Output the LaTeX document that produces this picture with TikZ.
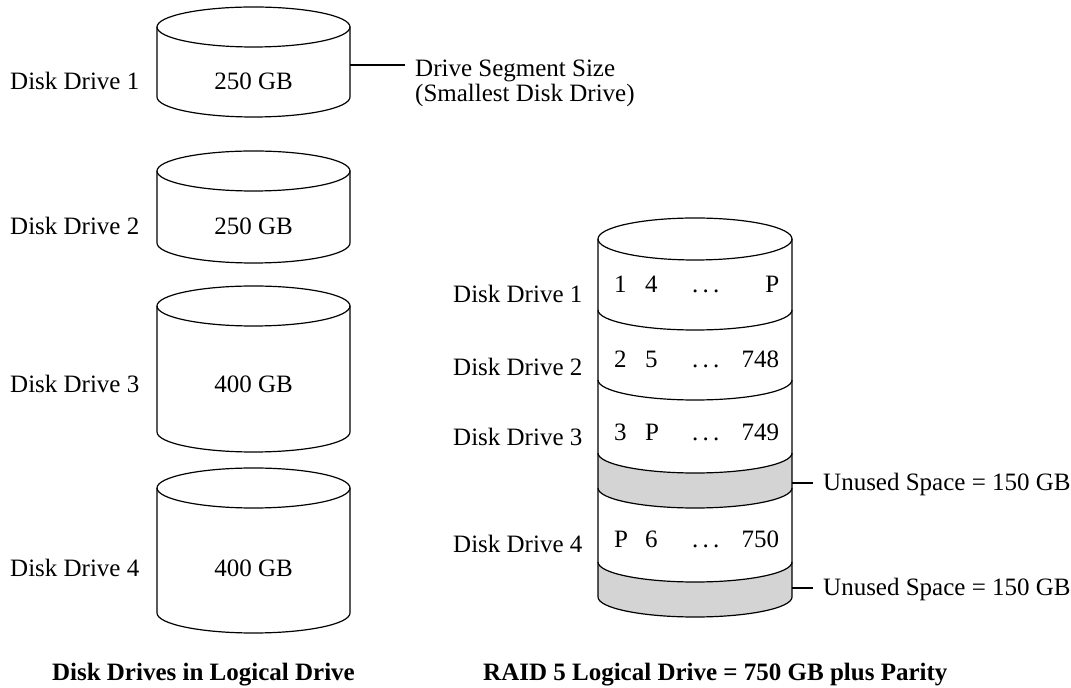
\documentclass[tikz,border=0pt]{standalone}
\usepackage{fontspec}
\setmainfont{Liberation Serif}
\usepackage{xcolor}
\definecolor{raidgray}{RGB}{212, 212, 212}
\definecolor{raidink}{RGB}{0, 0, 0}
\usepackage{tikz}
% one row of stripes inside the RAID drive
\newcommand{\raidrow}[3]{%
  \makebox[31pt][l]{#1}\makebox[47pt][l]{#2}%
  \makebox[28pt][l]{.\,.\,.}\makebox[59pt][r]{#3}}
\tikzset{
  % --- TEXT ---
  drive-label/.style={
    text=raidink,
    font=\fontsize{25}{25}\selectfont,
    inner sep=0pt,
    anchor=base west
  },
  size-text/.style={
    text=raidink,
    font=\fontsize{25}{25}\selectfont,
    inner sep=0pt,
    anchor=base
  },
  note-label/.style={
    text=raidink,
    font=\fontsize{25}{25}\selectfont,
    inner xsep=10pt,
    inner ysep=0pt,
    align=left
  },
  title-label/.style={
    text=raidink,
    font=\fontsize{25}{25}\selectfont\bfseries,
    inner sep=0pt
  },
  % --- LINES ---
  drum/.style={
    draw=raidink,
    line width=1.2pt
  },
  unused/.style={
    fill=raidgray
  },
  leader/.style={
    draw=raidink,
    line width=1.2pt
  },
}

\begin{document}
\begin{tikzpicture}[x=1pt, y=1pt]
  \useasboundingbox (0,0) rectangle (1071,688);
  % --- disk drives, left column
  \draw[drum] (253.5,661) ellipse [x radius=96.5, y radius=20];
  \draw[drum] (157,661) -- (157,591) arc [start angle=180, end angle=360, x radius=96.5, y radius=20] -- (350,661);
  \draw[drum] (253.5,517) ellipse [x radius=96.5, y radius=20];
  \draw[drum] (157,517) -- (157,445) arc [start angle=180, end angle=360, x radius=96.5, y radius=20] -- (350,517);
  \draw[drum] (253.5,382) ellipse [x radius=96.5, y radius=20];
  \draw[drum] (157,382) -- (157,256) arc [start angle=180, end angle=360, x radius=96.5, y radius=20] -- (350,382);
  \draw[drum] (253.5,200) ellipse [x radius=96.5, y radius=20];
  \draw[drum] (157,200) -- (157,75) arc [start angle=180, end angle=360, x radius=96.5, y radius=20] -- (350,200);
  \node[drive-label] (drive1-lbl) at (10,598) {Disk Drive 1};
  \node[drive-label] (drive2-lbl) at (10,453) {Disk Drive 2};
  \node[drive-label] (drive3-lbl) at (10,295) {Disk Drive 3};
  \node[drive-label] (drive4-lbl) at (10,111) {Disk Drive 4};
  \node[size-text] (drive1-size) at (253.5,598) {250 GB};
  \node[size-text] (drive2-size) at (253.5,453) {250 GB};
  \node[size-text] (drive3-size) at (253.5,295) {400 GB};
  \node[size-text] (drive4-size) at (253.5,111) {400 GB};
  % --- segment size note
  \coordinate (segment-pt) at (350,623);
  \node[note-label, anchor=west] (segment-note) at (405,605) {Drive Segment Size\\(Smallest Disk Drive)};
  \draw[leader] (segment-pt) -- (segment-pt -| segment-note.west);
  % --- RAID 5 logical drive, right column
  \fill[unused] (598,235) arc [start angle=180, end angle=360, x radius=97, y radius=20] -- (792,200) arc [start angle=0, end angle=-180, x radius=97, y radius=20] -- cycle;
  \fill[unused] (598,126) arc [start angle=180, end angle=360, x radius=97, y radius=20] -- (792,91) arc [start angle=0, end angle=-180, x radius=97, y radius=20] -- cycle;
  \draw[drum] (695,449) ellipse [x radius=97, y radius=21];
  \draw[drum] (598,449) -- (598,91) arc [start angle=180, end angle=360, x radius=97, y radius=20] -- (792,449);
  \draw[drum] (598,378) arc [start angle=180, end angle=360, x radius=97, y radius=20];
  \draw[drum] (598,308) arc [start angle=180, end angle=360, x radius=97, y radius=20];
  \draw[drum] (598,235) arc [start angle=180, end angle=360, x radius=97, y radius=20];
  \draw[drum] (598,200) arc [start angle=180, end angle=360, x radius=97, y radius=20];
  \draw[drum] (598,126) arc [start angle=180, end angle=360, x radius=97, y radius=20];
  \node[size-text, anchor=base west] (raid1-row) at (614,395) {\raidrow{1}{4}{P}};
  \node[size-text, anchor=base west] (raid2-row) at (614,320) {\raidrow{2}{5}{748}};
  \node[size-text, anchor=base west] (raid3-row) at (614,247) {\raidrow{3}{P}{749}};
  \node[size-text, anchor=base west] (raid4-row) at (614,140) {\raidrow{P}{6}{750}};
  \node[drive-label] (raid1-lbl) at (453,385) {Disk Drive 1};
  \node[drive-label] (raid2-lbl) at (453,312) {Disk Drive 2};
  \node[drive-label] (raid3-lbl) at (453,242) {Disk Drive 3};
  \node[drive-label] (raid4-lbl) at (453,135) {Disk Drive 4};
  % --- unused space notes
  \coordinate (unused1-pt) at (792,205);
  \coordinate (unused2-pt) at (792,100);
  \node[note-label, anchor=base west] (unused1) at (813,197) {Unused Space = 150 GB};
  \node[note-label, anchor=base west] (unused2) at (813,92) {Unused Space = 150 GB};
  \draw[leader] (unused1-pt) -- (unused1-pt -| unused1.west);
  \draw[leader] (unused2-pt) -- (unused2-pt -| unused2.west);
  % --- captions
  \node[title-label, anchor=base east] (left-title) at (355,7) {Disk Drives in Logical Drive};
  \node[title-label, anchor=base west] (right-title) at (483,7) {RAID 5 Logical Drive = 750 GB plus Parity};
\end{tikzpicture}
\end{document}
